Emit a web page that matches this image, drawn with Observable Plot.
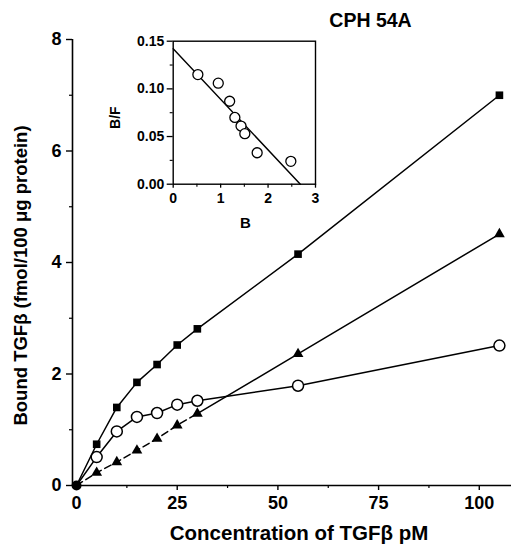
<!DOCTYPE html>
<html><head><meta charset="utf-8">
<script src="https://cdn.jsdelivr.net/npm/d3@7"></script>
<script src="https://cdn.jsdelivr.net/npm/@observablehq/plot@0.6"></script>
<style>
body{margin:0;background:#fff}
#wrap{position:relative;width:516px;height:548px}
#wrap svg{position:absolute;left:0;top:0}
</style>
</head><body><div id="wrap"></div>
<script>
// ---- data ----
const concentration = [0, 5, 10, 15, 20, 25, 30, 55, 105];
const boundSquare   = [0, 0.74, 1.40, 1.85, 2.17, 2.52, 2.81, 4.15, 7.00];
const boundCircle   = [0, 0.51, 0.97, 1.23, 1.30, 1.45, 1.52, 1.79, 2.51];
const boundTriangle = [0, 0.23, 0.42, 0.63, 0.84, 1.08, 1.29, 2.36, 4.51];
const xTicks = [0, 25, 50, 75, 100];
const xMinor = [12.5, 37.5, 62.5, 87.5];
const yTicks = [0, 2, 4, 6, 8];
const yMinor = [1, 3, 5, 7];

const scatB  = [0.52, 0.95, 1.19, 1.30, 1.43, 1.51, 1.77, 2.48];
const scatBF = [0.115, 0.106, 0.087, 0.070, 0.061, 0.053, 0.033, 0.024];
const fitB  = [0, 2.68];
const fitBF = [0.142, 0];
const insetXTicks = [0, 1, 2, 3];
const insetXMinor = [0.5, 1.5, 2.5];
const insetYTicks = [0, 0.05, 0.10, 0.15];
const insetYMinor = [0.025, 0.075, 0.125];

const title = "CPH 54A";
const xLabel = "Concentration of TGFβ pM";
const yLabel = "Bound TGFβ (fmol/100 μg protein)";
const insetXLabel = "B";
const insetYLabel = "B/F";

// ---- build ----
const FONT = '"Liberation Sans", Arial, Helvetica, sans-serif';
const rows = concentration.map((c, i) => ({c, sq: boundSquare[i], ci: boundCircle[i], tr: boundTriangle[i]}));
const triDash = rows.filter(d => d.c <= 30);
const triSolid = rows.filter(d => d.c >= 30);
const scatter = scatB.map((b, i) => ({b, bf: scatBF[i]}));
const fit = fitB.map((b, i) => ({b, bf: fitBF[i]}));

const main = Plot.plot({
  width: 516, height: 548,
  marginLeft: 72, marginRight: 5, marginTop: 39, marginBottom: 63,
  x: {domain: [-1, 108]},
  y: {domain: [0, 8]},
  style: {fontFamily: FONT, fontWeight: "bold", fontSize: "18px", color: "#000", background: "transparent"},
  marks: [
    Plot.ruleX([-1], {y1: 0, y2: 8, strokeWidth: 1.6}),
    Plot.ruleY([0], {x1: -1, x2: 108, strokeWidth: 1.6}),
    Plot.axisY({ticks: yTicks, tickSize: 6, tickPadding: 5, label: null, fontSize: 18, strokeWidth: 1.4}),
    Plot.axisY({ticks: yMinor, tickSize: 3, tickFormat: () => "", label: null, strokeWidth: 1.2}),
    Plot.axisX({ticks: xTicks, tickSize: 5, tickPadding: 6, label: null, fontSize: 18, strokeWidth: 1.4}),
    Plot.axisX({ticks: xMinor, tickSize: 3, tickFormat: () => "", label: null, strokeWidth: 1.2}),
    Plot.line(rows, {x: "c", y: "sq", strokeWidth: 1.5}),
    Plot.line(rows, {x: "c", y: "ci", strokeWidth: 1.5}),
    Plot.line(triDash, {x: "c", y: "tr", strokeWidth: 1.5, strokeDasharray: "7,4"}),
    Plot.line(triSolid, {x: "c", y: "tr", strokeWidth: 1.5}),
    Plot.dot(rows.slice(1), {x: "c", y: "sq", symbol: "square", r: 4.3, fill: "black"}),
    Plot.dot(rows.slice(1), {x: "c", y: "tr", symbol: "triangle", r: 4, fill: "black"}),
    Plot.dot(rows.slice(1), {x: "c", y: "ci", r: 5.5, fill: "white", stroke: "black", strokeWidth: 1.5}),
    Plot.dot(rows.slice(0, 1), {x: "c", y: "sq", r: 5, fill: "black"}),
    Plot.text([yLabel], {frameAnchor: "left", textAnchor: "middle", rotate: -90, dx: -51, dy: 13, fontSize: 18.5, fontWeight: "bold"}),
    Plot.text([xLabel], {frameAnchor: "bottom", textAnchor: "middle", lineAnchor: "bottom", dx: 7, dy: 54, fontSize: 20.5, fontWeight: "bold"}),
    Plot.text([title], {frameAnchor: "top", textAnchor: "middle", lineAnchor: "bottom", dx: 78.5, dy: -13, fontSize: 19.5, fontWeight: "bold"})
  ]
});

const inset = Plot.plot({
  width: 516, height: 548,
  marginLeft: 172.7, marginRight: 201, marginTop: 40.7, marginBottom: 364.3,
  x: {domain: [0, 3]},
  y: {domain: [0, 0.15]},
  style: {fontFamily: FONT, fontWeight: "bold", fontSize: "14px", color: "#000", background: "transparent", pointerEvents: "none"},
  marks: [
    Plot.frame({strokeWidth: 1.4}),
    Plot.axisY({ticks: insetYTicks, tickFormat: ".2f", tickSize: 6, tickPadding: 3, label: null, fontSize: 14, strokeWidth: 1.3}),
    Plot.axisY({ticks: insetYMinor, tickSize: 3, tickFormat: () => "", label: null, strokeWidth: 1.1}),
    Plot.axisX({ticks: insetXTicks, tickFormat: "d", tickSize: 4, tickPadding: 5, label: null, fontSize: 14, strokeWidth: 1.3}),
    Plot.axisX({ticks: insetXMinor, tickSize: 3, tickFormat: () => "", label: null, strokeWidth: 1.1}),
    Plot.line(fit, {x: "b", y: "bf", strokeWidth: 1.4}),
    Plot.dot(scatter, {x: "b", y: "bf", r: 5, fill: "white", stroke: "black", strokeWidth: 1.3}),
    Plot.text([insetYLabel], {frameAnchor: "left", textAnchor: "middle", rotate: -90, dx: -57.7, dy: 5, fontSize: 14, fontWeight: "bold"}),
    Plot.text([insetXLabel], {frameAnchor: "bottom", textAnchor: "middle", lineAnchor: "bottom", dx: 1, dy: 43.5, fontSize: 15, fontWeight: "bold"})
  ]
});

const wrap = document.getElementById("wrap");
wrap.appendChild(main);
wrap.appendChild(inset);
</script></body></html>
